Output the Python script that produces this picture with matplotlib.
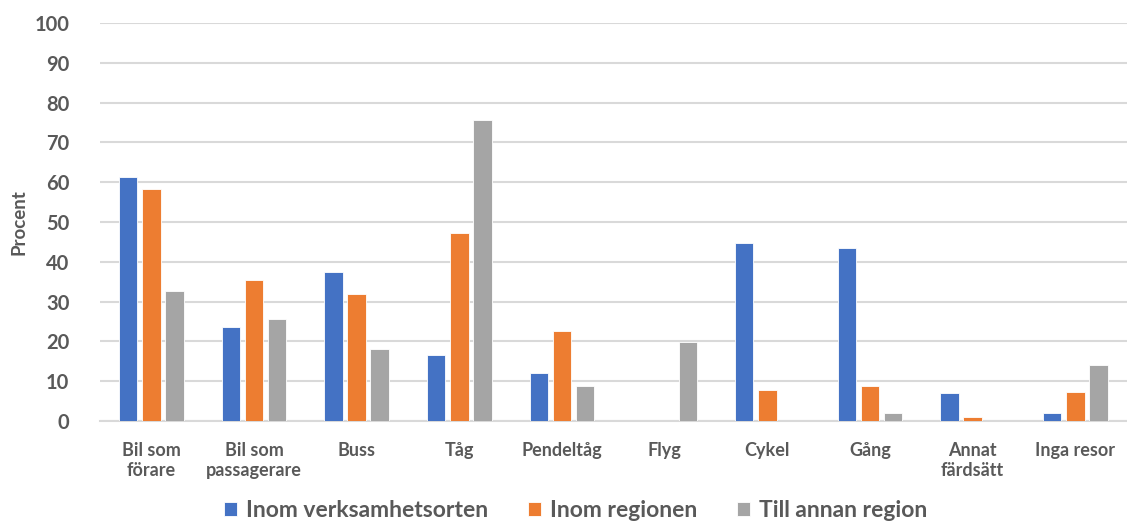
import matplotlib.pyplot as plt
import numpy as np

# data
categories = ['Bil som\nförare', 'Bil som\npassagerare', 'Buss', 'Tåg', 'Pendeltåg',
              'Flyg', 'Cykel', 'Gång', 'Annat\nfärdsätt', 'Inga resor']
series_names = ['Inom verksamhetsorten', 'Inom regionen', 'Till annan region']
verksamhetsorten = [61.3, 23.6, 37.4, 16.6, 12.1, 0.0, 44.7, 43.5, 7.0, 2.0]
regionen = [58.3, 35.4, 31.9, 47.2, 22.6, 0.0, 7.8, 8.8, 1.1, 7.2]
annan_region = [32.7, 25.6, 18.1, 75.6, 8.8, 19.8, 0.0, 2.0, 0.0, 14.1]
colors = ['#4472C4', '#ED7D31', '#A5A5A5']

plt.rcParams['font.family'] = ['Lato', 'DejaVu Sans']
text_col = '#595959'

fig = plt.figure(figsize=(11.27, 5.26), dpi=100)
ax = fig.add_axes([0.0887, 0.1996, 0.911, 0.7566])

x = np.arange(len(categories))
w = 0.18
step = 0.225
for i, (vals, name) in enumerate(zip([verksamhetsorten, regionen, annan_region], series_names)):
    ax.bar(x + (i - 1) * step, vals, w, color=colors[i], label=name,
           edgecolor='white', linewidth=0.6, zorder=3)

ax.set_xlim(-0.5, len(categories) - 0.5)
ax.set_ylim(0, 100)
ax.set_yticks(range(0, 101, 10))
ax.yaxis.grid(True, color='#d9d9d9', linewidth=1.5, zorder=0)
for s in ['top', 'right', 'left']:
    ax.spines[s].set_visible(False)
ax.spines['bottom'].set_color('#d9d9d9')
ax.spines['bottom'].set_linewidth(1.5)
ax.tick_params(axis='both', length=0)
ax.tick_params(axis='y', labelsize=14.5, labelcolor=text_col, pad=22)
ax.tick_params(axis='x', labelsize=13, labelcolor=text_col, pad=15)
ax.set_xticks(x)
ax.set_xticklabels(categories, fontweight='bold', linespacing=1.25)
for lbl in ax.get_yticklabels():
    lbl.set_fontweight('bold')
ax.set_ylabel('Procent', fontsize=13.5, fontweight='bold', color=text_col, labelpad=5)

fig.legend(loc='center', bbox_to_anchor=(0.511, 0.03), ncol=3, frameon=False,
           handlelength=0.55, handleheight=0.55, columnspacing=1.75,
           handletextpad=0.4, labelcolor=text_col, prop={'weight': 'bold', 'size': 16.5})

fig.savefig('out.png', dpi=100)
